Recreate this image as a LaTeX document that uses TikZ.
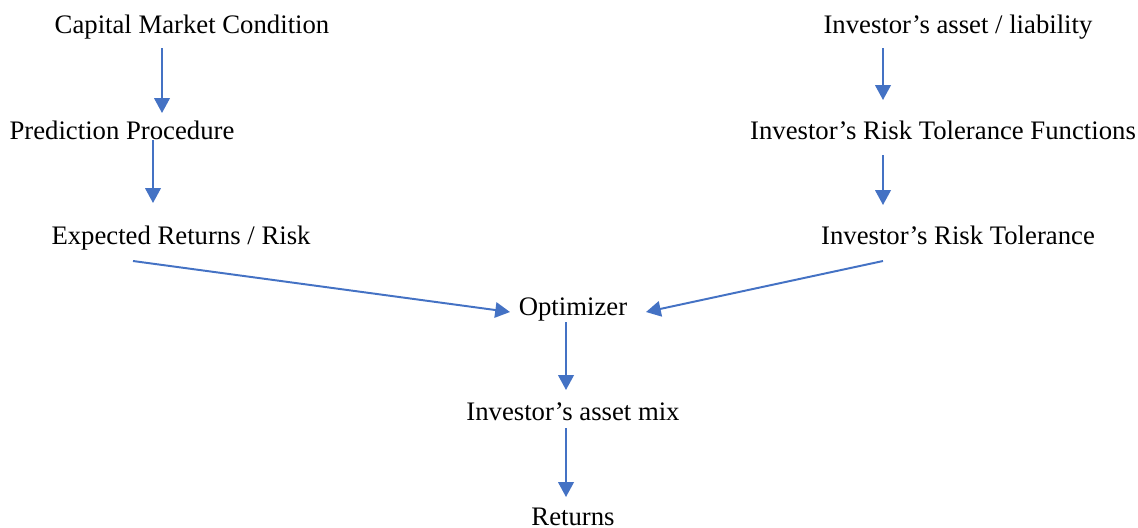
\documentclass[tikz,border=0pt]{standalone}
\usepackage{fontspec}
\setmainfont{Liberation Serif}
\usetikzlibrary{arrows.meta,calc}

\tikzset{
  lbl/.style={anchor=base,inner sep=0pt,font=\fontsize{19}{22}\selectfont},
  flow/.style={draw={rgb,255:red,68;green,114;blue,196},line width=1.4pt,
    -{Triangle[length=10.5pt,width=11pt]}}
}

\begin{document}
\begin{tikzpicture}[x=0.025cm,y=-0.025cm]
  \useasboundingbox (0,0) rectangle (1138,527);

  \node[lbl] (cmc) at (192,33) {Capital Market Condition};
  \node[lbl] (pp) at (122,139) {Prediction Procedure};
  \node[lbl] (exp) at (181,244) {Expected Returns / Risk};

  \node[lbl] (ial) at (958,33) {Investor’s asset / liability};
  \node[lbl] (rtf) at (943,139) {Investor’s Risk Tolerance Functions};
  \node[lbl] (rt) at (958,244) {Investor’s Risk Tolerance};

  \node[lbl] (opt) at (573,315) {Optimizer};
  \node[lbl] (mix) at (573,420) {Investor’s asset mix};
  \node[lbl] (ret) at (573,525) {Returns};

  \draw[flow] ($(cmc.base)+(-30,15)$) -- ($(pp.base)+(40,-26)$);
  \draw[flow] ($(pp.base)+(31,1)$) -- ($(exp.base)+(-28,-41)$);
  \draw[flow] ($(ial.base)+(-75,15)$) -- ($(rtf.base)+(-60,-39)$);
  \draw[flow] ($(rtf.base)+(-60,16)$) -- ($(rt.base)+(-75,-39)$);
  \draw[flow] ($(exp.base)+(-48,17)$) -- ($(opt.base)+(-63,-3)$);
  \draw[flow] ($(rt.base)+(-75,17)$) -- ($(opt.base)+(73,-3)$);
  \draw[flow] ($(opt.base)+(-7,7)$) -- ($(mix.base)+(-7,-30)$);
  \draw[flow] ($(mix.base)+(-7,8)$) -- ($(ret.base)+(-7,-28)$);
\end{tikzpicture}
\end{document}
